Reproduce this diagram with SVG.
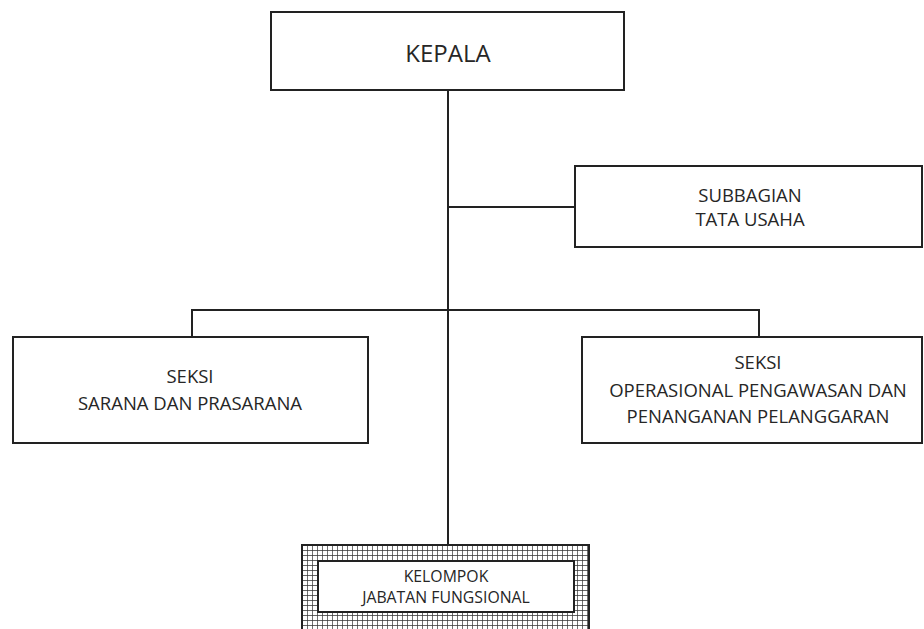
<svg xmlns="http://www.w3.org/2000/svg" width="924" height="629" viewBox="0 0 924 629">
<style>
.box{fill:#fff;stroke:#222;stroke-width:2}
.ln{fill:none;stroke:#222;stroke-width:2}
text{font-family:"Open Sans","DejaVu Sans",sans-serif;fill:#262626;text-anchor:middle}
.t{font-size:18.5px}
.s{font-size:15.8px}
</style>
<defs>
<pattern id="grid" x="302" y="545" width="5" height="5" patternUnits="userSpaceOnUse">
<rect width="5" height="5" fill="#fff"/>
<path d="M0 0H5M0 0V5" stroke="#333" stroke-width="1.4" fill="none"/>
</pattern>
</defs>
<g id="connectors">
<line class="ln" x1="448" y1="90" x2="448" y2="545"/>
<line class="ln" x1="448" y1="207" x2="575" y2="207"/>
<polyline class="ln" points="192,337 192,310 759,310 759,337"/>
</g>
<g id="kepala">
<rect class="box" x="271" y="12" width="353" height="78"/>
<text x="448" y="62" style="font-size:24px">KEPALA</text>
</g>
<g id="subbagian">
<rect class="box" x="575" y="166" width="347" height="81"/>
<text class="t" x="750" y="202">SUBBAGIAN</text>
<text class="t" x="750" y="226">TATA USAHA</text>
</g>
<g id="seksi-sarana">
<rect class="box" x="13" y="337" width="355" height="106"/>
<text class="t" x="190" y="383">SEKSI</text>
<text class="t" x="190" y="410">SARANA DAN PRASARANA</text>
</g>
<g id="seksi-operasional">
<rect class="box" x="582" y="337" width="340" height="106"/>
<text class="t" x="758" y="369">SEKSI</text>
<text class="t" x="758" y="397">OPERASIONAL PENGAWASAN DAN</text>
<text class="t" x="758" y="423">PENANGANAN PELANGGARAN</text>
</g>
<g id="kelompok">
<rect x="302" y="545" width="287" height="90" fill="url(#grid)" stroke="#222" stroke-width="2"/>
<rect class="box" x="318" y="561" width="256" height="51"/>
<text class="s" x="446" y="582">KELOMPOK</text>
<text class="s" x="446" y="603">JABATAN FUNGSIONAL</text>
</g>
</svg>
